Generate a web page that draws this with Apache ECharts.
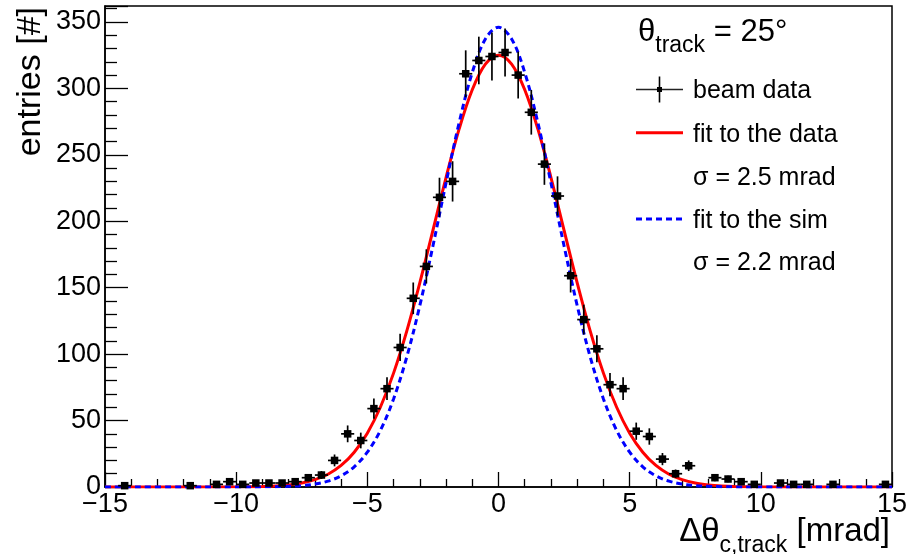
<!DOCTYPE html>
<html><head><meta charset="utf-8">
<script src="https://cdn.jsdelivr.net/npm/echarts@6/dist/echarts.min.js"></script>
<style>html,body{margin:0;padding:0;background:#fff}#c{width:913px;height:554px}</style>
</head><body><div id="c"></div>
<script>
// ---- data ----
const binCenters = [-14.25,-11.75,-10.75,-10.25,-9.75,-9.25,-8.75,-8.25,-7.75,-7.25,
  -6.75,-6.25,-5.75,-5.25,-4.75,-4.25,-3.75,-3.25,-2.75,-2.25,
  -1.75,-1.25,-0.75,-0.25,0.25,0.75,1.25,1.75,2.25,2.75,
  3.25,3.75,4.25,4.75,5.25,5.75,6.25,6.75,7.25,8.25,
  8.75,9.25,9.75,10.75,11.25,11.75,12.75,14.75];
const entries = [1,1,2,4,2,3,3,3,4,7,
  9,20,40,35,59,74,105,142,166,218,
  230,311,321,324,327,310,282,243,219,159,
  126,104,77,74,42,38,21,10,16,7,
  6,4,2,3,2,2,2,2];
const binHalfWidth = 0.25;

const curveX = [-15,-12,-10,-9,-8.5,-8,-7.5,-7,-6.5,-6,-5.5,-5,-4.5,-4,-3.5,-3,-2.5,-2,-1.5,-1,-0.5,
  0,0.5,1,1.5,2,2.5,3,3.5,4,4.5,5,5.5,6,6.5,7,7.5,8,8.5,9,10,12,15];
const fitDataY = [0,0,0.1,0.4,0.8,1.6,3.0,5.5,9.6,16.2,26.2,40.5,60.2,85.7,117.1,153.6,193.1,232.9,269.5,299.0,318.3,
  325,318.3,299.0,269.5,232.9,193.1,153.6,117.1,85.7,60.2,40.5,26.2,16.2,9.6,5.5,3.0,1.6,0.8,0.4,0.1,0,0];
const fitSimY = [0,0,0,0.1,0.2,0.5,1.0,2.2,4.4,8.4,15.2,26.2,42.7,66.3,97.6,136.5,181.4,228.9,274.2,312.0,337.2,
  346,337.2,312.0,274.2,228.9,181.4,136.5,97.6,66.3,42.7,26.2,15.2,8.4,4.4,2.2,1.0,0.5,0.2,0.1,0,0,0];

const xMin = -15, xMax = 15, xStep = 5;
const yMin = 0, yMax = 362, yStep = 50;

const legendTitle = '{g|θ}{s|track}{g| = 25°}';
const legendLabels = ['beam data','fit to the data','σ = 2.5 mrad','fit to the sim','σ = 2.2 mrad'];
const xTitle = '{g|Δθ}{s|c,track}{g| [mrad]}';
const yTitle = 'entries [#]';

// ---- chart ----
const FONT = 'Liberation Sans, Arial, Helvetica, sans-serif';
const chart = echarts.init(document.getElementById('c'), null, {renderer:'canvas'});

const pts = binCenters.map((x,i)=>[x, entries[i]]);
const redData = curveX.map((x,i)=>[x, fitDataY[i]]);
const blueData = curveX.map((x,i)=>[x, fitSimY[i]]);

const legX1 = 636, legX2 = 683, legTextX = 693;
const rowY = [89.5, 132.7, 176.5, 219, 261.5];

const graphic = [
  {type:'text', x:638, y:17, z:10, style:{text:legendTitle, align:'left', verticalAlign:'top',
    fill:'#000', font:'31px '+FONT,
    rich:{g:{fontSize:31, fontFamily:FONT, fill:'#000', verticalAlign:'bottom', padding:[0,0,9,0]},
          s:{fontSize:23, fontFamily:FONT, fill:'#000', verticalAlign:'bottom'}}}},
  // beam data symbol
  {type:'line', z:10, shape:{x1:legX1,y1:rowY[0],x2:legX2,y2:rowY[0]}, style:{stroke:'#222',lineWidth:1.3}},
  {type:'line', z:10, shape:{x1:(legX1+legX2)/2,y1:rowY[0]-13,x2:(legX1+legX2)/2,y2:rowY[0]+13}, style:{stroke:'#000',lineWidth:1.6}},
  {type:'rect', z:10, shape:{x:(legX1+legX2)/2-2.5,y:rowY[0]-2.5,width:5,height:5}, style:{fill:'#000'}},
  // red line
  {type:'line', z:10, shape:{x1:legX1,y1:rowY[1],x2:legX2,y2:rowY[1]}, style:{stroke:'#ff0000',lineWidth:3}},
  // blue dashed
  {type:'line', z:10, shape:{x1:legX1,y1:rowY[3],x2:legX2,y2:rowY[3]}, style:{stroke:'#0000ff',lineWidth:3,lineDash:[6,4]}},
  // y title
  {type:'text', x:31, y:7, rotation:Math.PI/2, z:10, style:{text:yTitle, align:'right', verticalAlign:'middle', fill:'#000', font:'34px '+FONT}},
  // x title
  {type:'text', x:890, y:515, z:10, style:{text:xTitle, align:'right', verticalAlign:'top', fill:'#000', font:'33px '+FONT,
    rich:{g:{fontSize:33, fontFamily:FONT, fill:'#000', verticalAlign:'bottom', padding:[0,0,9,0]},
          s:{fontSize:23, fontFamily:FONT, fill:'#000', verticalAlign:'bottom'}}}}
];
legendLabels.forEach((t,i)=>{
  graphic.push({type:'text', x:legTextX, y:rowY[i]+2, z:10, style:{text:t, align:'left', verticalAlign:'middle', fill:'#000', font:'25px '+FONT}});
});

const option = {
  animation:false,
  backgroundColor:'#fff',
  grid:{left:105, right:21, top:6, bottom:67, show:true, borderColor:'#000', borderWidth:1.5, backgroundColor:'transparent'},
  xAxis:{type:'value', min:xMin, max:xMax, interval:xStep,
    axisLine:{show:true, onZero:false, lineStyle:{color:'#000', width:1.5}},
    axisTick:{show:true, inside:true, length:15, lineStyle:{color:'#000', width:1.3}},
    minorTick:{show:true, splitNumber:5, length:8, lineStyle:{color:'#000', width:1.3}},
    splitLine:{show:false},
    axisLabel:{color:'#000', fontSize:27, fontFamily:FONT, margin:4,
      formatter:v=> v<0 ? '\u2212'+Math.abs(v) : String(v)}},
  yAxis:{type:'value', min:yMin, max:yMax, interval:yStep,
    axisLine:{show:true, onZero:false, lineStyle:{color:'#000', width:1.5}},
    axisTick:{show:true, inside:true, length:23, lineStyle:{color:'#000', width:1.3}},
    minorTick:{show:true, splitNumber:5, length:12, lineStyle:{color:'#000', width:1.3}},
    splitLine:{show:false},
    axisLabel:{color:'#000', fontSize:27, fontFamily:FONT, margin:4,
      formatter:v=> (v % yStep === 0) ? String(v) : ''}},
  graphic: graphic,
  series:[
    {type:'line', name:'fit to the data', data:redData, smooth:0.35, showSymbol:false, z:3,
      lineStyle:{color:'#ff0000', width:3}},
    {type:'line', name:'fit to the sim', data:blueData, smooth:0.35, showSymbol:false, z:4,
      lineStyle:{color:'#0000ff', width:3, type:[6,4]}},
    {type:'custom', name:'beam data', data:pts, z:5,
      renderItem:function(params, api){
        const x = api.value(0), v = api.value(1), e = Math.sqrt(v);
        const c = api.coord([x, v]);
        const top = api.coord([x, v+e]);
        const bot = api.coord([x, Math.max(0, v-e)]);
        const l = api.coord([x-binHalfWidth, v]), r = api.coord([x+binHalfWidth, v]);
        return {type:'group', children:[
          {type:'line', shape:{x1:c[0],y1:top[1],x2:c[0],y2:bot[1]}, style:{stroke:'#000',lineWidth:1.7}},
          {type:'line', shape:{x1:l[0],y1:c[1],x2:r[0],y2:c[1]}, style:{stroke:'#000',lineWidth:1.7}},
          {type:'rect', shape:{x:c[0]-3.75,y:c[1]-3.75,width:7.5,height:7.5}, style:{fill:'#000'}}
        ]};
      }}
  ]
};
chart.setOption(option);
</script>
</body></html>
